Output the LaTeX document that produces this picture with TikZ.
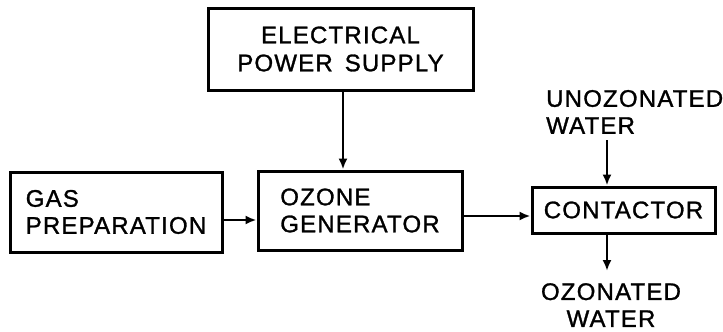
\documentclass[tikz,border=0pt]{standalone}
\usepackage{fontspec}
\setmainfont[LetterSpace=5,FakeBold=1.2]{Liberation Sans}
\usetikzlibrary{arrows.meta}
\begin{document}
\begin{tikzpicture}[x=1pt,y=-1pt,
  blk/.style={draw,line width=3pt,inner sep=0pt,font=\fontsize{24}{27}\selectfont},
  lbl/.style={inner sep=0pt,font=\fontsize{24}{27}\selectfont},
  arr/.style={line width=2.6pt,-{Latex[length=11pt,width=9pt]}}]
\useasboundingbox (0,0) rectangle (723,332);
\node[blk,minimum width=265pt,minimum height=82pt,align=center] (eps) at (340.5,49) {ELECTRICAL\\[1pt]POWER\enspace SUPPLY};
\node[blk,minimum width=212pt,minimum height=80pt,align=left] (gas) at (116,212) {GAS\\PREPARATION};
\node[blk,minimum width=204pt,minimum height=79pt,align=left] (ozg) at (360,210.5) {OZONE\\GENERATOR};
\node[blk,minimum width=183pt,minimum height=46pt] (con) at (623.5,210) {CONTACTOR};
\node[lbl,align=left,anchor=south west] (uw) at (546,134) {UNOZONATED\\WATER};
\node[lbl,align=center,anchor=north] (ow) at (611,283) {OZONATED\\WATER};
\coordinate (uin) at (607,140);
\coordinate (uout) at (607,271);
\draw[arr] ([xshift=2.5pt]eps.south) -- ([xshift=2.5pt]eps.south |- ozg.north);
\draw[arr] ([yshift=-8pt]gas.east) -- ([yshift=-8pt]gas.east -| ozg.west);
\draw[arr] ([yshift=-5.5pt]ozg.east) -- ([yshift=-5.5pt]ozg.east -| con.west);
\draw[arr] (uin) -- (uin |- con.north);
\draw[arr] (uin |- con.south) -- (uout);
\end{tikzpicture}
\end{document}
